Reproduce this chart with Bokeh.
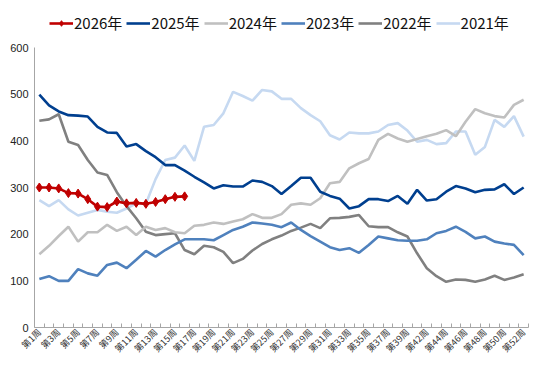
from bokeh.plotting import figure
from bokeh.models import Range1d, FixedTicker, Legend, LegendItem
from bokeh.layouts import column
from bokeh.embed import file_html
from bokeh.resources import INLINE

weeks = [f"第{w}周" for w in list(range(1, 41)) + list(range(42, 53))]

y2026 = [300, 300, 298, 288, 287, 275, 259, 258, 270, 266, 267, 265, 269, 275, 280, 281]
y2025 = [499, 476, 463, 455, 454, 452, 430, 418, 417, 388, 393, 378, 365, 348, 348, 336,
         323, 311, 298, 305, 302, 302, 315, 312, 303, 286, 303, 321, 321, 291, 282, 276,
         255, 260, 275, 275, 271, 282, 265, 295, 272, 275, 291, 303, 298, 290, 295, 296,
         307, 286, 300]
y2024 = [157, 175, 196, 216, 184, 204, 204, 220, 207, 216, 198, 216, 209, 213, 204, 202,
         218, 220, 225, 222, 227, 232, 243, 235, 235, 243, 263, 266, 263, 277, 309, 312,
         341, 352, 361, 402, 415, 405, 398, 404, 410, 415, 423, 410, 441, 468, 459, 453,
         450, 477, 488]
y2023 = [104, 110, 100, 100, 125, 116, 111, 134, 139, 127, 145, 164, 152, 166, 178, 189,
         189, 189, 187, 198, 209, 216, 225, 223, 220, 215, 225, 209, 196, 184, 172, 166,
         170, 160, 177, 195, 191, 187, 186, 186, 189, 202, 207, 216, 205, 191, 195, 184,
         180, 177, 155]
y2022 = [443, 446, 457, 398, 391, 359, 332, 327, 290, 260, 234, 205, 198, 200, 202, 166,
         157, 175, 172, 162, 138, 147, 165, 179, 189, 197, 207, 214, 222, 213, 234, 235,
         237, 241, 217, 215, 215, 204, 195, 159, 127, 110, 98, 103, 102, 98, 103, 111,
         102, 107, 114]
y2021 = [273, 260, 273, 253, 240, 246, 252, 248, 246, 255, 266, 265, 318, 359, 364, 390,
         357, 430, 434, 459, 505, 496, 486, 509, 506, 490, 490, 470, 455, 442, 412, 403,
         418, 416, 416, 420, 434, 438, 422, 398, 402, 393, 395, 420, 420, 370, 387, 445,
         430, 453, 409]
series_names = ["2026年", "2025年", "2024年", "2023年", "2022年", "2021年"]

n = len(weeks)
xs = [i + 0.5 for i in range(n)]

c2021 = "#C6D9F1"
c2022 = "#808080"
c2023 = "#4F81BD"
c2024 = "#C0C0C0"
c2025 = "#003F8F"
c2026 = "#C00000"
lw = 2.6

series = [(y2026, c2026), (y2025, c2025), (y2024, c2024),
          (y2023, c2023), (y2022, c2022), (y2021, c2021)]

# ---- main chart
p = figure(width=537, height=329, output_backend="svg", toolbar_location=None,
           x_range=Range1d(0, n), y_range=Range1d(0, 600),
           min_border_left=34, min_border_right=9, min_border_top=7, min_border_bottom=42)
p.outline_line_color = None
p.xgrid.visible = False
p.ygrid.visible = False

for ys, col in reversed(series):
    p.line(xs[:len(ys)], ys, line_color=col, line_width=lw)
p.scatter(xs[:len(y2026)], y2026, marker="diamond", size=9, fill_color=c2026, line_color=c2026)

xa = p.xaxis[0]
label_idx = list(range(0, n, 2))
xa.ticker = FixedTicker(ticks=[i + 0.5 for i in label_idx], minor_ticks=list(range(0, n + 1)))
xa.major_label_overrides = {i + 0.5: weeks[i] for i in label_idx}
xa.major_label_orientation = 0.785
xa.major_tick_line_color = None
xa.major_tick_in = 0
xa.major_tick_out = 0
xa.minor_tick_in = 4
xa.minor_tick_out = 0
xa.minor_tick_line_color = "#A6A6A6"
xa.axis_line_color = "#A6A6A6"
xa.major_label_text_font = "Noto Sans CJK SC"
xa.major_label_text_font_size = "9px"
xa.major_label_text_color = "#333333"
xa.major_label_standoff = 3

ya = p.yaxis[0]
ya.ticker = FixedTicker(ticks=[0, 100, 200, 300, 400, 500, 600])
ya.major_tick_line_color = None
ya.major_tick_in = 0
ya.major_tick_out = 0
ya.minor_tick_line_color = None
ya.axis_line_color = "#A6A6A6"
ya.major_label_text_font = "Liberation Sans"
ya.major_label_text_font_size = "11px"
ya.major_label_text_color = "#222222"
ya.major_label_standoff = 6

# ---- legend strip (series drawn off-frame, only their legend glyphs show)
lg = figure(width=537, height=40, output_backend="svg", toolbar_location=None,
            x_range=Range1d(0, 1), y_range=Range1d(0, 1),
            x_axis_type=None, y_axis_type=None,
            min_border_left=0, min_border_right=0, min_border_top=0, min_border_bottom=0)
lg.outline_line_color = None
lg.xgrid.visible = False
lg.ygrid.visible = False
items = []
for name, (ys, col) in zip(series_names, series):
    rl = lg.line(xs[:len(ys)], ys, line_color=col, line_width=lw)
    rends = [rl]
    if name == "2026年":
        rends.append(lg.scatter(xs[:len(ys)], ys, marker="diamond", size=9,
                                fill_color=col, line_color=col))
    items.append(LegendItem(label=name, renderers=rends))

legend = Legend(items=items, orientation="horizontal", location=(15, 7))
legend.label_text_font = "Noto Sans CJK SC"
legend.label_text_font_size = "15px"
legend.label_text_color = "#111111"
legend.glyph_width = 24
legend.glyph_height = 14
legend.label_standoff = 1
legend.spacing = 4
legend.padding = 0
legend.margin = 0
legend.border_line_color = None
legend.background_fill_alpha = 0
lg.add_layout(legend, "center")

layout = column(lg, p, spacing=0)
open("out.html", "w").write(file_html(layout, INLINE))
